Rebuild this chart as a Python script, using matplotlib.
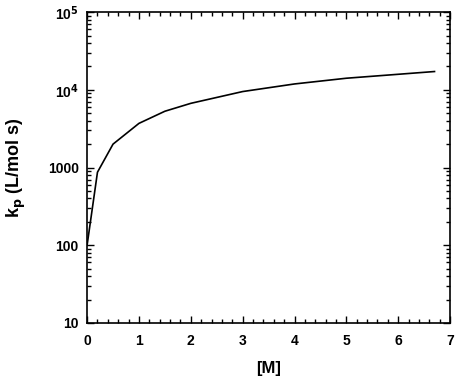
import numpy as np
import matplotlib
matplotlib.use('Agg')
import matplotlib.pyplot as plt
from matplotlib.ticker import MultipleLocator, LogLocator, FixedLocator, FixedFormatter, NullFormatter

plt.rcParams['font.family'] = ['Liberation Sans', 'DejaVu Sans']
plt.rcParams['font.weight'] = 'bold'

# monomer concentration [M] and propagation rate coefficient kp
conc = [0.0, 0.2, 0.5, 1.0, 1.5, 2.0, 3.0, 4.0, 5.0, 6.7]
kp = [100, 870, 2000, 3700, 5300, 6700, 9500, 11900, 14100, 17200]

ytick_vals = [10, 100, 1000, 1e4, 1e5]
ytick_labels = ['10', '100', '1000', r'10$^{\mathbf{4}}$', r'10$^{\mathbf{5}}$']

fig = plt.figure(figsize=(4.56, 3.79), dpi=100)
ax = fig.add_axes([0.191, 0.148, 0.796, 0.820])

ax.plot(conc, kp, color='black', lw=1.2)

ax.set_yscale('log')
ax.set_xlim(0, 7)
ax.set_ylim(10, 1e5)

ax.xaxis.set_major_locator(MultipleLocator(1))
ax.xaxis.set_minor_locator(MultipleLocator(0.2))
ax.yaxis.set_major_locator(FixedLocator(ytick_vals))
ax.yaxis.set_major_formatter(FixedFormatter(ytick_labels))
ax.yaxis.set_minor_locator(LogLocator(base=10, subs=np.arange(2, 10)))
ax.yaxis.set_minor_formatter(NullFormatter())

ax.tick_params(which='both', direction='in', top=True, right=True, width=1)
ax.tick_params(which='major', length=5, labelsize=10, pad=6)
ax.tick_params(axis='x', which='major', pad=8)
ax.tick_params(which='minor', length=3)
for lab in ax.get_xticklabels() + ax.get_yticklabels():
    lab.set_fontweight('bold')
for s in ax.spines.values():
    s.set_linewidth(1.2)

ax.set_xlabel('[M]', fontsize=12, fontweight='bold', labelpad=9)
ax.set_ylabel(r'k$_{\mathbf{p}}$ (L/mol s)', fontsize=13, fontweight='bold', labelpad=14)

fig.savefig('out.png', dpi=100)
